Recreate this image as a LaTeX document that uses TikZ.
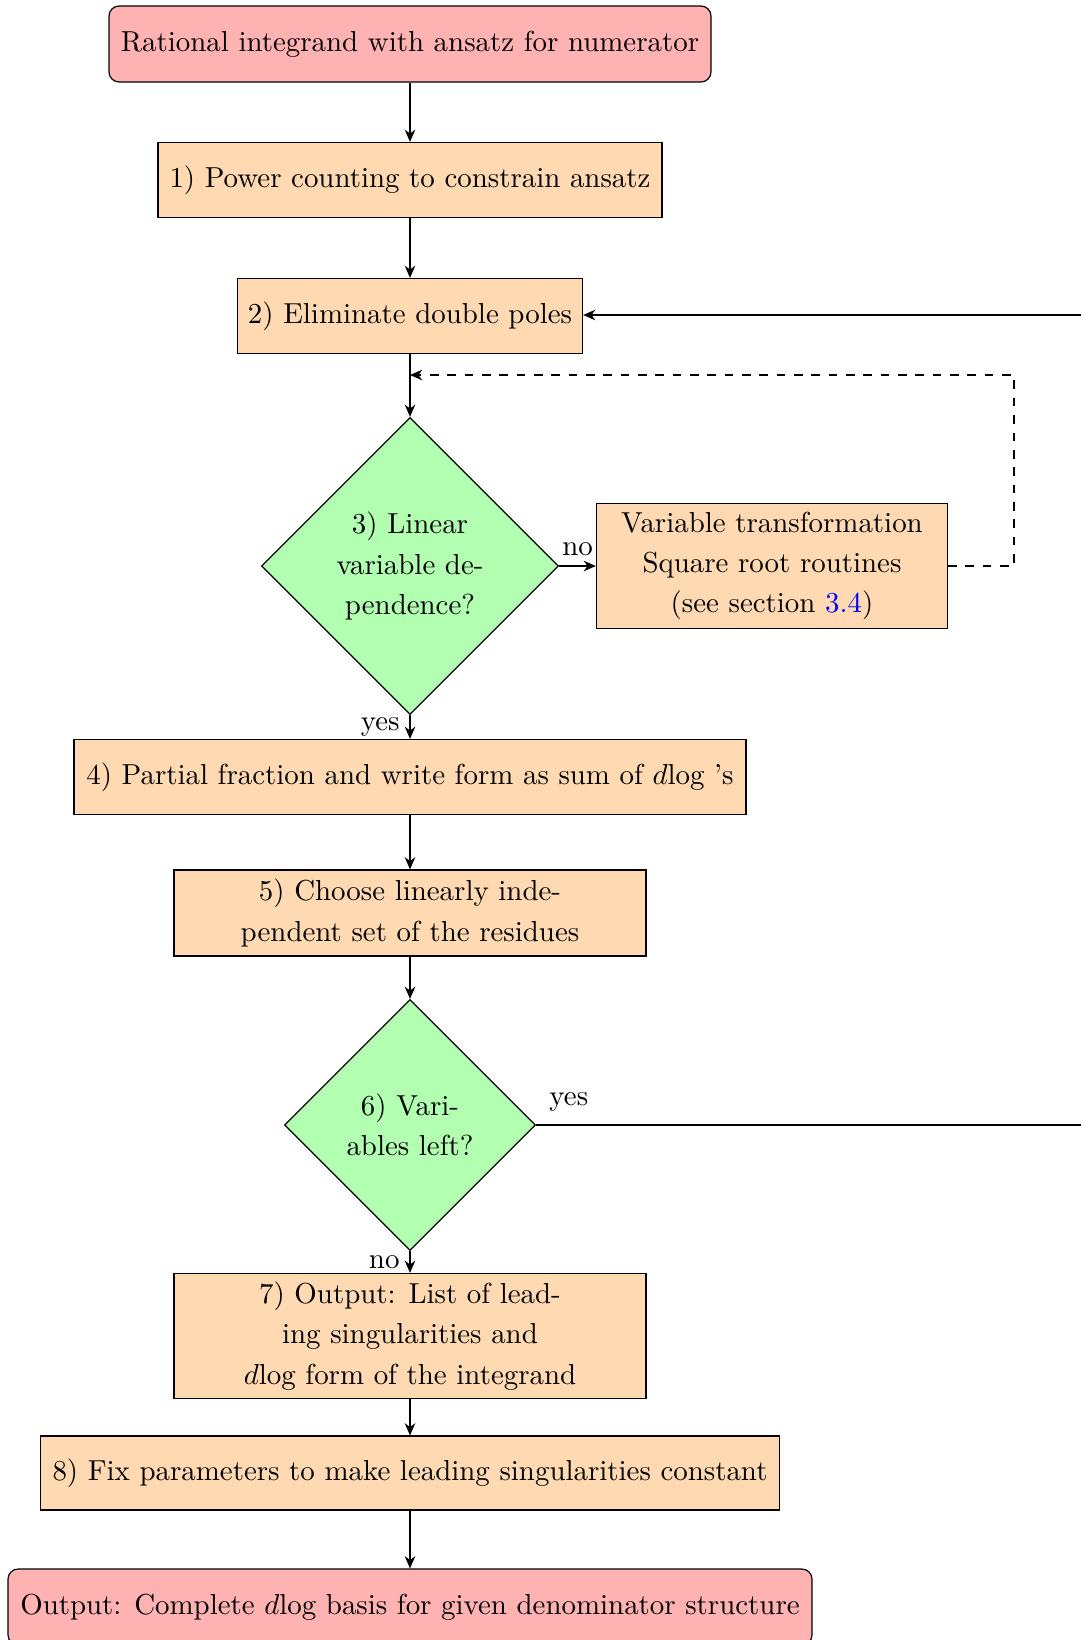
\documentclass[tikz,border=0pt]{standalone}
\usetikzlibrary{shapes.geometric,arrows.meta}
\definecolor{redfill}{rgb}{1,0.7,0.7}
\definecolor{orangefill}{rgb}{1,0.85,0.7}
\definecolor{greenfill}{rgb}{0.7,1,0.7}
\def\px{0.346pt}
\begin{document}
\begin{tikzpicture}[x=0.346pt,y=-0.346pt,
  font=\fontsize{10}{13.9}\selectfont,
  >={Stealth[length=4.2pt,width=3.6pt,inset=1.3pt]},
  startstop/.style={rectangle, rounded corners=3.5pt, draw, fill=redfill, align=center, inner sep=2pt},
  process/.style={rectangle, draw, fill=orangefill, align=center, inner sep=2pt},
  decision/.style={diamond, draw, fill=greenfill, align=center, inner sep=0pt, aspect=1},
  arr/.style={semithick,->},
  darr/.style={semithick,dashed,->}]
\useasboundingbox (0,0) rectangle (1081,1640);

\node[startstop, minimum width=602*\px, minimum height=76*\px] (start) at (410,44) {Rational integrand with ansatz for numerator};
\node[process, minimum width=504*\px, minimum height=75*\px] (s1) at (410,180) {1) Power counting to constrain ansatz};
\node[process, minimum width=345*\px, minimum height=75*\px] (s2) at (410,316) {2) Eliminate double poles};
\node[decision, minimum width=297*\px, minimum height=297*\px] (d3) at (410,566) {3) Linear\\variable de-\\pendence?};
\node[process, minimum width=351*\px, minimum height=125*\px] (vt) at (772,566) {Variable transformation\\Square root routines\\(see section \textcolor{blue}{3.4})};
\node[process, minimum width=672*\px, minimum height=75*\px] (s4) at (410,777) {4) Partial fraction and write form as sum of $d$log 's};
\node[process, minimum width=472*\px, minimum height=86*\px] (s5) at (410,913) {5) Choose linearly inde-\\pendent set of the residues};
\node[decision, minimum width=251*\px, minimum height=251*\px] (d6) at (410,1125) {6) Vari-\\ables left?};
\node[process, minimum width=472*\px, minimum height=125*\px] (s7) at (410,1336) {7) Output: List of lead-\\ing singularities and\\$d$log form of the integrand};
\node[process, minimum width=739*\px, minimum height=74*\px] (s8) at (410,1473) {8) Fix parameters to make leading singularities constant};
\node[startstop, minimum width=804*\px, minimum height=76*\px] (stop) at (410,1607) {Output: Complete $d$log basis for given denominator structure};

\coordinate (dashR) at (1014,375);
\coordinate (dashL) at (410,375);
\coordinate (loopR) at (1120,1125);
\coordinate (loopT) at (1120,315);

\draw[arr] (start) -- (s1);
\draw[arr] (s1) -- (s2);
\draw[arr] (s2) -- (d3);
\draw[arr] (d3) -- node[above] {no} (vt);
\draw[darr] (vt.east) -| (dashR) -- (dashL);
\draw[arr] (d3) -- node[left] {yes} (s4);
\draw[arr] (s4) -- (s5);
\draw[arr] (s5) -- (d6);
\draw[arr] (d6) -- node[left] {no} (s7);
\draw[arr] (s7) -- (s8);
\draw[arr] (s8) -- (stop);
\draw[arr] (d6.east) -- node[at start, anchor=south west, xshift=1pt, yshift=1pt] {yes} (loopR) -- (loopT) -- (s2.east |- loopT);
\end{tikzpicture}
\end{document}
